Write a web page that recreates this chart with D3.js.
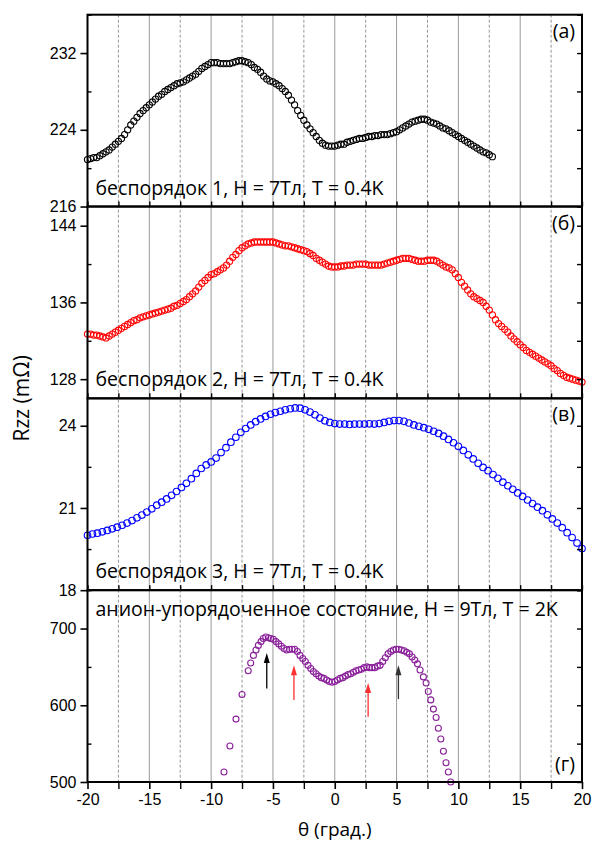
<!DOCTYPE html>
<html>
<head>
<meta charset="utf-8">
<script src="https://cdn.jsdelivr.net/npm/d3@7"></script>
<style>
  body { margin: 0; background: #fff; }
  svg { display: block; }
</style>
</head>
<body>
<div id="chart"></div>
<script>
// x axis: angle, degrees
const xTicksMajor = [-20, -15, -10, -5, 0, 5, 10, 15, 20];
const xGridSolid = [-15, -10, -5, 0, 5, 10, 15];
const xGridDashed = [-17.5, -12.5, -7.5, -2.5, 2.5, 7.5, 12.5, 17.5];

// panel (a): disorder 1, theta = -20 + 0.25*i
const rzzA = [
  220.9, 221.0, 221.1, 221.1, 221.3, 221.5, 221.7, 221.9, 222.2, 222.5,
  222.8, 223.1, 223.5, 224.0, 224.5, 224.9, 225.3, 225.7, 226.0, 226.3,
  226.6, 226.9, 227.2, 227.5, 227.7, 228.0, 228.2, 228.4, 228.6, 228.8,
  228.9, 229.0, 229.2, 229.4, 229.6, 229.8, 230.1, 230.4, 230.6, 230.8,
  231.0, 231.0, 231.0, 230.9, 230.9, 230.9, 230.9, 231.0, 231.1, 231.2,
  231.2, 231.1, 231.0, 230.8, 230.5, 230.3, 230.0, 229.6, 229.3, 229.1,
  229.0, 228.8, 228.6, 228.3, 228.0, 227.6, 227.1, 226.6, 226.0, 225.5,
  225.0, 224.5, 224.1, 223.7, 223.3, 222.9, 222.6, 222.4, 222.3, 222.3,
  222.3, 222.4, 222.5, 222.5, 222.7, 222.8, 222.9, 223.0, 223.1, 223.1,
  223.2, 223.3, 223.3, 223.4, 223.4, 223.5, 223.5, 223.5, 223.6, 223.7,
  223.8, 224.0, 224.2, 224.4, 224.6, 224.8, 224.9, 225.0, 225.1, 225.1,
  225.0, 224.8, 224.7, 224.6, 224.4, 224.2, 224.1, 223.9, 223.7, 223.5,
  223.3, 223.1, 222.9, 222.7, 222.5, 222.3, 222.1, 221.9, 221.7, 221.6,
  221.4, 221.2
];

// panel (b): disorder 2, theta = -20 + 0.25*i
const rzzB = [
  132.7, 132.7, 132.6, 132.6, 132.5, 132.4, 132.3, 132.5, 132.7, 132.9,
  133.1, 133.3, 133.5, 133.7, 133.9, 134.1, 134.2, 134.4, 134.5, 134.6,
  134.7, 134.8, 134.9, 135.0, 135.1, 135.2, 135.3, 135.4, 135.6, 135.7,
  135.9, 136.1, 136.3, 136.6, 136.9, 137.2, 137.6, 138.0, 138.3, 138.6,
  138.9, 139.0, 139.2, 139.4, 139.6, 139.9, 140.3, 140.7, 141.0, 141.4,
  141.7, 141.9, 142.1, 142.2, 142.3, 142.3, 142.3, 142.3, 142.3, 142.3,
  142.3, 142.2, 142.1, 142.0, 141.9, 141.9, 141.8, 141.7, 141.6, 141.5,
  141.4, 141.3, 141.1, 140.9, 140.6, 140.4, 140.2, 140.0, 139.8, 139.7,
  139.7, 139.7, 139.8, 139.8, 139.9, 139.9, 139.9, 140.0, 140.0, 140.0,
  140.0, 139.9, 139.9, 139.9, 139.9, 139.9, 140.0, 140.1, 140.2, 140.3,
  140.4, 140.5, 140.6, 140.6, 140.6, 140.5, 140.4, 140.3, 140.3, 140.3,
  140.4, 140.4, 140.4, 140.3, 140.1, 139.9, 139.7, 139.6, 139.4, 139.0,
  138.6, 138.1, 137.7, 137.3, 136.9, 136.6, 136.4, 136.2, 136.0, 135.6,
  135.2, 134.7, 134.2, 133.8, 133.5, 133.2, 132.9, 132.5, 132.2, 131.9,
  131.6, 131.3, 131.0, 130.8, 130.6, 130.4, 130.2, 130.0, 129.8, 129.6,
  129.4, 129.1, 128.9, 128.6, 128.4, 128.2, 128.1, 128.0, 127.9, 127.8,
  127.7
];

// panel (c): disorder 3, theta = -20 + 0.4*i
const rzzC = [
  20.00, 20.05, 20.08, 20.13, 20.18, 20.24, 20.30, 20.37, 20.45, 20.54,
  20.64, 20.74, 20.85, 20.97, 21.10, 21.21, 21.33, 21.46, 21.60, 21.75,
  21.90, 22.07, 22.26, 22.44, 22.57, 22.68, 22.82, 23.02, 23.20, 23.40,
  23.58, 23.76, 23.90, 24.03, 24.15, 24.25, 24.34, 24.42, 24.48, 24.53,
  24.58, 24.62, 24.65, 24.64, 24.58, 24.50, 24.40, 24.28, 24.18, 24.12,
  24.08, 24.06, 24.06, 24.05, 24.06, 24.06, 24.06, 24.07, 24.06, 24.08,
  24.12, 24.16, 24.19, 24.19, 24.16, 24.10, 24.03, 23.98, 23.93, 23.87,
  23.80, 23.72, 23.62, 23.50, 23.38, 23.25, 23.10, 22.94, 22.79, 22.63,
  22.48, 22.36, 22.22, 22.08, 21.94, 21.81, 21.68, 21.55, 21.42, 21.29,
  21.16, 21.03, 20.90, 20.75, 20.60, 20.45, 20.28, 20.10, 19.92, 19.72,
  19.52
];

// panel (d): anion-ordered state
const thetaD = [
  -8.96, -8.48, -7.99, -7.5, -7.0, -6.8, -6.58, -6.37, -6.18, -5.96,
  -5.78, -5.58, -5.37, -5.18, -4.97, -4.75, -4.53, -4.32, -4.1, -3.88,
  -3.67, -3.45, -3.24, -3.02, -2.81, -2.59, -2.38, -2.16, -1.94, -1.73,
  -1.51, -1.29, -1.08, -0.87, -0.65, -0.44, -0.22, 0, 0.21, 0.43,
  0.65, 0.86, 1.08, 1.29, 1.51, 1.72, 1.94, 2.15, 2.37, 2.59,
  2.8, 3.02, 3.24, 3.45, 3.67, 3.88, 4.09, 4.31, 4.53, 4.74,
  4.96, 5.18, 5.39, 5.61, 5.83, 6.04, 6.26, 6.47, 6.69, 6.9,
  7.17, 7.39, 7.57, 7.77, 7.98, 8.2, 8.38, 8.58, 8.79, 9.0,
  9.19, 9.38
];
const rzzD = [
  513, 547, 582, 614, 645, 655, 665, 672, 678, 683,
  687, 689, 688, 687, 686, 683, 680, 677, 674, 672,
  673, 673, 673, 670, 665, 661, 657, 652, 648, 644,
  641, 638, 636, 635, 633, 631, 630, 631, 633, 635,
  636, 638, 640, 641, 643, 645, 646, 647, 649, 650,
  649, 649, 649, 651, 652, 657, 662, 667, 670, 672,
  673, 673, 672, 671, 669, 667, 663, 659, 654, 646,
  637, 629, 618, 607, 595, 584, 570, 556, 540, 525,
  513, 500
];

// arrows in panel (d)
const arrowTheta = [-5.5, -3.3, 2.7, 5.15];
const arrowFrom = [622, 607, 585, 608];
const arrowTo = [668, 652, 629, 652];
const arrowColor = ['#000000', '#ff3030', '#ff3030', '#333333'];

// y ticks per panel
const yDomains = [[216, 236], [126, 146], [18, 25], [500, 750]];
const yMajor = [[216, 224, 232], [128, 136, 144], [18, 21, 24], [500, 600, 700]];
const yMinor = [[220, 228, 236], [132, 140], [19.5, 22.5], [550, 650, 750]];
const panelTags = ['(a)', '(б)', '(в)', '(г)'];
const legends = [
  'беспорядок 1, H = 7Тл, T = 0.4K',
  'беспорядок 2, H = 7Тл, T = 0.4K',
  'беспорядок 3, H = 7Тл, T = 0.4K',
  'анион-упорядоченное состояние, H = 9Тл, T = 2K'
];
const colors = ['#000000', '#ff0000', '#0000ff', '#8a1f9a'];

const width = 592, height = 846;
const margin = {top: 14.7, left: 87.5, right: 10, bottom: 64};
const plotW = width - margin.left - margin.right;
const panelH = (height - margin.top - margin.bottom) / 4;
const plotBottom = margin.top + panelH * 4;

const tickFont = '"Liberation Sans", Arial, sans-serif';
const textFont = '"Open Sans", "Noto Sans", sans-serif';
const plainNum = d => String(d);

const svg = d3.select('#chart').append('svg')
    .attr('width', width)
    .attr('height', height);

const x = d3.scaleLinear()
    .domain([-20, 20])
    .range([margin.left, margin.left + plotW]);

// grid lines through all panels
const grid = svg.append('g').attr('id', 'grid');
grid.selectAll('.solid')
  .data(xGridSolid)
  .join('line')
    .attr('class', 'solid')
    .attr('x1', d => x(d)).attr('x2', d => x(d))
    .attr('y1', margin.top).attr('y2', plotBottom)
    .attr('stroke', '#9a9a9a')
    .attr('stroke-width', 1);
grid.selectAll('.dashed')
  .data(xGridDashed)
  .join('line')
    .attr('class', 'dashed')
    .attr('x1', d => x(d)).attr('x2', d => x(d))
    .attr('y1', margin.top).attr('y2', plotBottom)
    .attr('stroke', '#7a7a7a')
    .attr('stroke-width', 0.8)
    .attr('stroke-dasharray', '3,2');

const seriesData = [
  rzzA.map((v, i) => [-20 + 0.25 * i, v]),
  rzzB.map((v, i) => [-20 + 0.25 * i, v]),
  rzzC.map((v, i) => [-20 + 0.4 * i, v]),
  d3.zip(thetaD, rzzD)
];
const radius = [3.1, 3.1, 3.3, 3.0];

const yScales = [];

seriesData.forEach((data, k) => {
  const top = margin.top + panelH * k;
  const bottom = top + panelH;
  const y = d3.scaleLinear()
      .domain(yDomains[k])
      .range([bottom, top]);
  yScales.push(y);

  const g = svg.append('g').attr('class', 'panel');

  // markers
  g.append('g')
    .selectAll('circle')
    .data(data)
    .join('circle')
      .attr('cx', d => x(d[0]))
      .attr('cy', d => y(d[1]))
      .attr('r', radius[k])
      .attr('fill', 'none')
      .attr('stroke', colors[k])
      .attr('stroke-width', 1.1);

  // left axis: labelled majors outward, minors inward
  g.append('g')
      .attr('transform', `translate(${margin.left},0)`)
      .call(d3.axisLeft(y).tickValues(yMajor[k]).tickSize(7).tickPadding(4)
          .tickFormat(plainNum))
      .call(a => a.select('.domain').remove())
      .call(a => a.selectAll('line').attr('stroke-width', 1.6))
      .call(a => a.selectAll('text')
          .attr('font-family', tickFont).attr('font-size', 16).attr('fill', '#000'));
  g.append('g')
      .attr('transform', `translate(${margin.left},0)`)
      .call(d3.axisLeft(y).tickValues(yMinor[k]).tickSize(-4).tickFormat(''))
      .call(a => a.select('.domain').remove())
      .call(a => a.selectAll('line').attr('stroke-width', 1.4));

  // right axis: inward ticks
  g.append('g')
      .attr('transform', `translate(${margin.left + plotW},0)`)
      .call(d3.axisRight(y).tickValues(yMajor[k].concat(yMinor[k])).tickSize(-5).tickFormat(''))
      .call(a => a.select('.domain').remove())
      .call(a => a.selectAll('line').attr('stroke-width', 1.4));

  // bottom ticks of each panel
  const xAll = xTicksMajor.concat(xGridDashed);
  if (k < 3) {
    g.append('g')
        .attr('transform', `translate(0,${bottom})`)
        .call(d3.axisBottom(x).tickValues(xAll).tickSize(-5).tickFormat(''))
        .call(a => a.select('.domain').remove())
        .call(a => a.selectAll('line').attr('stroke-width', 1.4));
  } else {
    g.append('g')
        .attr('transform', `translate(0,${bottom})`)
        .call(d3.axisBottom(x).tickValues(xTicksMajor).tickSize(7).tickPadding(5)
            .tickFormat(plainNum))
        .call(a => a.select('.domain').remove())
        .call(a => a.selectAll('line').attr('stroke-width', 1.6))
        .call(a => a.selectAll('text')
            .attr('font-family', tickFont).attr('font-size', 16).attr('fill', '#000'));
    g.append('g')
        .attr('transform', `translate(0,${bottom})`)
        .call(d3.axisBottom(x).tickValues(xGridDashed).tickSize(7).tickFormat(''))
        .call(a => a.select('.domain').remove())
        .call(a => a.selectAll('line').attr('stroke-width', 1.4));
  }

  // frame
  g.append('rect')
      .attr('x', margin.left)
      .attr('y', top)
      .attr('width', plotW)
      .attr('height', panelH)
      .attr('fill', 'none')
      .attr('stroke', '#000')
      .attr('stroke-width', 2);

  // legend text
  const legendY = k < 3 ? bottom - 12 : top + 26;
  g.append('text')
      .attr('x', margin.left + 8)
      .attr('y', legendY)
      .attr('font-family', textFont)
      .attr('font-size', 19.5)
      .attr('fill', '#000')
      .text(legends[k]);

  // panel tag
  const tagY = k === 3 ? bottom - 11 : top + 23;
  g.append('text')
      .attr('x', margin.left + plotW - 7)
      .attr('y', tagY)
      .attr('text-anchor', 'end')
      .attr('font-family', textFont)
      .attr('font-size', 19.5)
      .attr('fill', '#000')
      .text(panelTags[k]);
});

// arrows in panel (d)
const yD = yScales[3];
const arrows = svg.append('g').attr('id', 'arrows')
  .selectAll('g')
  .data(arrowTheta.map((t, i) => ({t, from: arrowFrom[i], to: arrowTo[i], color: arrowColor[i]})))
  .join('g');
arrows.append('line')
    .attr('x1', d => x(d.t)).attr('x2', d => x(d.t))
    .attr('y1', d => yD(d.from)).attr('y2', d => yD(d.to) + 8)
    .attr('stroke', d => d.color)
    .attr('stroke-width', 1.3);
arrows.append('path')
    .attr('d', d => {
      const cx = x(d.t), ty = yD(d.to);
      return `M${cx},${ty} L${cx - 3},${ty + 10} L${cx + 3},${ty + 10} Z`;
    })
    .attr('fill', d => d.color);

// axis titles
svg.append('text')
    .attr('x', x(0))
    .attr('y', plotBottom + 54)
    .attr('text-anchor', 'middle')
    .attr('font-family', textFont)
    .attr('font-size', 19)
    .attr('fill', '#000')
    .text('θ (град.)');

svg.append('text')
    .attr('transform', `translate(29,${margin.top + panelH * 2}) rotate(-90)`)
    .attr('text-anchor', 'middle')
    .attr('font-family', textFont)
    .attr('font-size', 21)
    .attr('fill', '#000')
    .text('Rzz (mΩ)');
</script>
</body>
</html>
